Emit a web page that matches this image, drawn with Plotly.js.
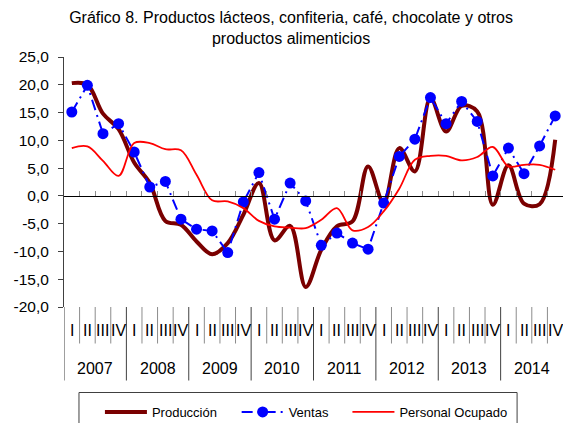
<!DOCTYPE html>
<html><head><meta charset="utf-8">
<script src="https://cdn.plot.ly/plotly-3.0.1.min.js"></script>
<style>html,body{margin:0;padding:0;background:#fff}</style>
</head><body>
<div id="chart" style="width:563px;height:423px"></div>
<script>
// ---- data ----
const years = ['2007','2008','2009','2010','2011','2012','2013','2014'];
const quarterNames = ['I','II','III','IV'];
const produccion = [20.3, 20.0, 14.8, 12.0, 6.0, 2.3, -4.5, -5.2,
                    -8.2, -10.5, -8.5, -3.4, 2.3, -8.0, -5.4, -16.4,
                    -9.7, -5.5, -4.6, 5.3, -1.2, 8.6, 4.4, 17.6,
                    11.6, 16.2, 15.2, -1.6, 5.5, -1.4, -1.5, 10.1];
const ventas = [15.1, 19.9, 11.2, 13.0, 7.9, 1.6, 2.6, -4.2,
                -6.0, -6.3, -10.2, -1.1, 4.2, -4.2, 2.3, -0.9,
                -8.9, -6.7, -8.5, -9.6, -1.3, 7.1, 10.2, 17.7,
                13.0, 17.0, 13.4, 3.6, 8.6, 4.0, 9.0, 14.4];
const personal = [8.6, 8.9, 6.3, 3.6, 9.5, 9.5, 8.4, 8.2,
                  3.8, -0.8, -1.0, -2.2, -4.5, -5.5, -5.7, -5.8,
                  -4.3, -2.2, -6.2, -5.6, -2.8, 1.3, 6.5, 7.2,
                  7.2, 6.4, 7.0, 8.8, 5.3, 5.6, 5.6, 4.7];
const yTickVals = [-20, -15, -10, -5, 0, 5, 10, 15, 20, 25];
const yTickLabels = ['-20,0','-15,0','-10,0','-5,0','0,0','5,0','10,0','15,0','20,0','25,0'];

// ---- build ----
const quarterLabels = [];
years.forEach(() => quarterNames.forEach(q => quarterLabels.push(q)));
const xIdx = quarterLabels.map((_, i) => i);
const nQ = quarterNames.length;

const traces = [
  {x: xIdx, y: produccion, name: 'Producción', type: 'scatter', mode: 'lines', legend: 'legend',
   line: {color: '#7A0000', width: 4, shape: 'spline', smoothing: 1}},
  {x: xIdx, y: ventas, name: 'Ventas', type: 'scatter', mode: 'lines+markers', legend: 'legend2',
   line: {color: '#0000FF', width: 2, dash: '11px,5px,2px,5px'},
   marker: {color: '#0000FF', size: 11, symbol: 'circle'}},
  {x: xIdx, y: personal, name: 'Personal Ocupado', type: 'scatter', mode: 'lines', legend: 'legend3',
   line: {color: '#FF0000', width: 1.8, shape: 'spline', smoothing: 1}}
];

const yMin = yTickVals[0], yMax = yTickVals[yTickVals.length - 1];
const shapes = [];
const annotations = [];
// left axis extension below plot
shapes.push({type: 'line', xref: 'x', yref: 'paper', x0: -0.5, x1: -0.5, y0: 0, y1: -0.294,
             line: {color: '#404040', width: 1}});
for (let i = 1; i < quarterLabels.length; i++) {
  const isYear = (i % nQ === 0);
  shapes.push({type: 'line', xref: 'x', yref: 'paper', x0: i - 0.5, x1: i - 0.5,
               y0: 0, y1: isYear ? -0.294 : -0.146,
               line: {color: isYear ? '#404040' : '#8c8c8c', width: 1}});
}
// legend frame
shapes.push({type: 'rect', xref: 'paper', yref: 'paper', x0: 0.03, x1: 0.908, y0: -0.342, y1: -0.52,
             line: {color: '#404040', width: 1}, fillcolor: 'rgba(0,0,0,0)'});
quarterLabels.forEach((q, i) => annotations.push({
  text: q, xref: 'x', yref: 'paper', x: i, y: -0.093, yanchor: 'middle', showarrow: false,
  font: {family: 'Liberation Sans Narrow, Arial Narrow, sans-serif', size: 16, color: '#000'}
}));
years.forEach((yr, k) => annotations.push({
  text: yr, xref: 'x', yref: 'paper', x: k * nQ + (nQ - 1) / 2, y: -0.246, yanchor: 'middle', showarrow: false,
  font: {family: 'Liberation Sans, Arial, sans-serif', size: 16, color: '#000'}
}));

const legendBase = {orientation: 'h', xanchor: 'left', y: -0.36, yanchor: 'top',
                    borderwidth: 0, bgcolor: 'rgba(0,0,0,0)', itemwidth: 42,
                    font: {family: 'Liberation Sans, Arial, sans-serif', size: 13, color: '#000'}};

const layout = {
  width: 563, height: 423,
  margin: {l: 64, r: 0, t: 57, b: 116, autoexpand: false},
  paper_bgcolor: '#fff', plot_bgcolor: '#fff',
  font: {family: 'Liberation Sans, Arial, sans-serif', color: '#000'},
  title: {text: 'Gráfico 8. Productos lácteos, confiteria, café, chocolate y otros<br>productos alimenticios',
          xref: 'container', x: 0.517, xanchor: 'center', yref: 'container', y: 0.945, yanchor: 'top',
          font: {family: 'Liberation Sans, Arial, sans-serif', size: 16, color: '#000'}},
  showlegend: true,
  legend: Object.assign({}, legendBase, {x: 0.072}),
  legend2: Object.assign({}, legendBase, {x: 0.346}),
  legend3: Object.assign({}, legendBase, {x: 0.568}),
  xaxis: {range: [-0.5, quarterLabels.length - 0.5], anchor: 'free', position: (0 - yMin) / (yMax - yMin),
          showline: true, linecolor: '#000', linewidth: 1.5, showgrid: false, zeroline: false,
          ticks: 'inside', ticklen: 5, tickcolor: '#8c8c8c', tickwidth: 1,
          tickvals: xIdx.slice(1).map(i => i - 0.5), showticklabels: false, fixedrange: true},
  yaxis: {range: [yMin, yMax], tickvals: yTickVals, ticktext: yTickLabels,
          showline: true, linecolor: '#404040', linewidth: 1, showgrid: false, zeroline: false,
          ticks: 'outside', ticklen: 5, tickcolor: '#404040', ticklabelstandoff: 6,
          tickfont: {family: 'Liberation Sans, Arial, sans-serif', size: 15.5, color: '#000'}, fixedrange: true},
  shapes: shapes,
  annotations: annotations
};
Plotly.newPlot('chart', traces, layout, {staticPlot: true, displayModeBar: false});
</script>
</body></html>
